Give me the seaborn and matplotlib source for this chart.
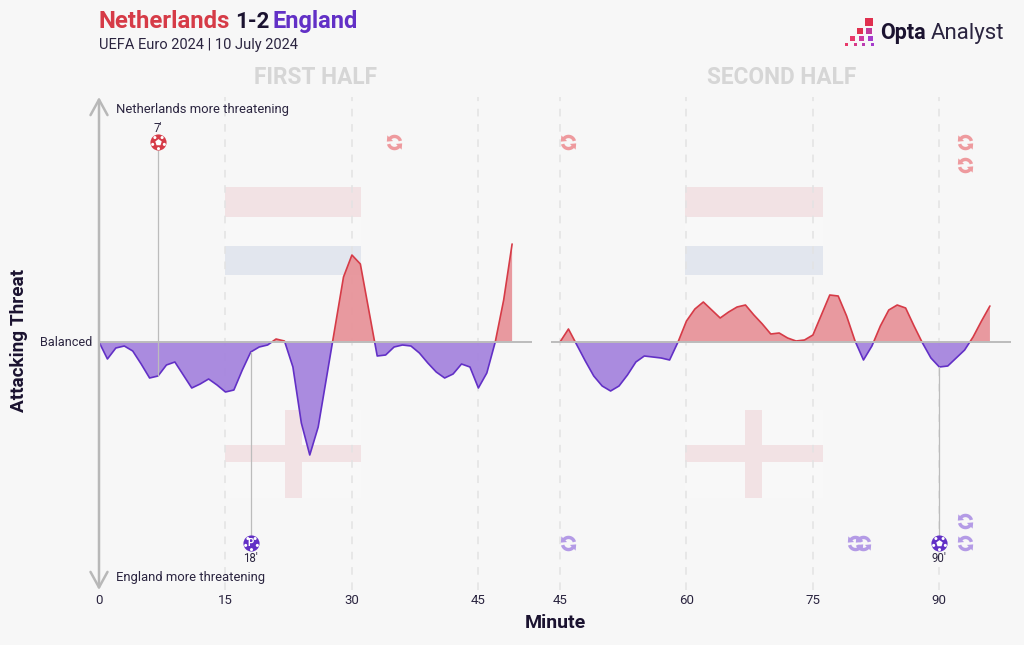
import numpy as np
import pandas as pd
import matplotlib
matplotlib.use("Agg")
import matplotlib.pyplot as plt
import seaborn as sns
from matplotlib.patches import Rectangle
from matplotlib.path import Path

# ---------- data ----------
first_half_minutes = list(range(0, 50))
first_half_threat = [0, -17, -6, -4, -9, -22, -36, -34, -23, -20,
                     -33, -46, -42, -37, -43, -50, -48, -28, -10, -5,
                     -3, 3, 1, -25, -81, -113, -85, -35, 15, 65,
                     87, 78, 32, -14, -13, -5, -3, -4, -11, -21,
                     -30, -36, -32, -22, -25, -46, -31, 0, 42, 98]
second_half_minutes = list(range(45, 97))
second_half_threat = [0, 13, -3, -19, -34, -44, -49, -44, -33, -20,
                      -14, -15, -16, -18, 0, 21, 33, 40, 32, 24,
                      30, 35, 37, 27, 18, 8, 9, 4, 1, 2,
                      7, 27, 47, 46, 26, 1, -18, -4, 16, 32,
                      37, 34, 16, -1, -16, -25, -24, -16, -8, 5,
                      21, 36]
first_ticks = [0, 15, 30, 45]
second_ticks = [45, 60, 75, 90]
nl_goals = [(7, "7'")]
eng_goals_first = [(18, "18'")]
eng_goals_second = [(90, "90'")]
nl_subs_first = [35]
nl_subs_first_level = [200]
nl_subs_second = [46, 93, 93]
nl_subs_second_level = [200, 200, 177]
eng_subs_second = [46, 80, 81, 93, 93]
eng_subs_second_level = [-201, -201, -201, -201, -179]

# ---------- style ----------
BG = "#f7f7f7"
RED = "#d63b47"
PURPLE = "#6230c6"
RED_FILL = "#e8949a"
PURPLE_FILL = "#a685de"
INK = "#2b2540"
GREY = "#bcbcbc"
FONT = ["Roboto", "DejaVu Sans"]

sns.set_theme(style="white")
plt.rcParams["font.family"] = FONT
W, H = 1024, 645
fig = plt.figure(figsize=(W / 100, H / 100), dpi=100, facecolor=BG)

PX_TOP, PX_BOT, PX_ZERO = 95, 590, 342


def make_axes(left, right):
    ax = fig.add_axes([left / W, 1 - PX_BOT / H, (right - left) / W, (PX_BOT - PX_TOP) / H])
    ax.set_facecolor("none")
    ax.set_ylim(PX_ZERO - PX_BOT, PX_ZERO - PX_TOP)
    ax.set_yticks([])
    sns.despine(ax=ax, left=True, bottom=True)
    ax.tick_params(axis="x", length=0, pad=3, labelsize=9.5, labelcolor=INK)
    return ax


ax1 = make_axes(99, 532)
ax1.set_xlim(0, 51.36)
ax2 = make_axes(551, 1011)
ax2.set_xlim(43.93, 98.5)


def flag_nl(ax, x0, x1):
    ax.add_patch(Rectangle((x0, 125), x1 - x0, 30, fc="#f2e2e4", ec="none", zorder=1))
    ax.add_patch(Rectangle((x0, 96), x1 - x0, 29, fc="#f8f8f8", ec="none", zorder=1))
    ax.add_patch(Rectangle((x0, 67), x1 - x0, 29, fc="#e2e6ee", ec="none", zorder=1))


def flag_eng(ax, x0, x1, c0, c1):
    ax.add_patch(Rectangle((x0, -156), x1 - x0, 88, fc="#f8f8f8", ec="none", zorder=1))
    ax.add_patch(Rectangle((x0, -120), x1 - x0, 17, fc="#f2e2e4", ec="none", zorder=1))
    ax.add_patch(Rectangle((c0, -156), c1 - c0, 88, fc="#f2e2e4", ec="none", zorder=1))


def draw_series(ax, minutes, threat):
    m = np.array(minutes, float)
    t = np.array(threat, float)
    ax.fill_between(m, 0, t, where=t >= 0, interpolate=True, color=RED_FILL, lw=0, alpha=0.95, zorder=3)
    ax.fill_between(m, 0, t, where=t <= 0, interpolate=True, color=PURPLE_FILL, lw=0, alpha=0.95, zorder=3)
    df = pd.DataFrame({"minute": minutes, "threat": threat})
    x0, x1 = ax.get_xlim()
    for col, lo, hi in ((RED, 0, 400), (PURPLE, -400, 0)):
        n = len(ax.lines)
        sns.lineplot(data=df, x="minute", y="threat", ax=ax, color=col, lw=1.2,
                     estimator=None, errorbar=None, zorder=4)
        line = ax.lines[n]
        line.set_clip_path(Rectangle((x0, lo), x1 - x0, hi - lo, transform=ax.transData))
    ax.set_xlabel("")
    ax.set_ylabel("")
    ax.axhline(0, color=GREY, lw=1.4, zorder=5)


def regular_polygon(cx, cy, r, n, start):
    ang = np.deg2rad(start + np.arange(n) * 360 / n)
    pts = np.column_stack([cx + r * np.cos(ang), cy + r * np.sin(ang)])
    return Path(np.vstack([pts, pts[0]]), closed=True)


def ball_detail(with_centre=True):
    parts = []
    if with_centre:
        parts.append(regular_polygon(0, 0, 0.42, 5, 90))
    for k in range(5):
        a = np.deg2rad(126 + 72 * k)
        parts.append(regular_polygon(0.76 * np.cos(a), 0.76 * np.sin(a), 0.2, 8, 0))
    return Path.make_compound_path(*parts)


def sub_icon():
    def half(a0, a1):
        ang = np.deg2rad(np.linspace(a0, a1, 24))
        outer = np.column_stack([np.cos(ang), np.sin(ang)])
        inner = np.column_stack([0.56 * np.cos(ang[::-1]), 0.56 * np.sin(ang[::-1])])
        e = ang[-1]
        tip_r = np.array([np.cos(e), np.sin(e)])
        tang = np.array([-np.sin(e), np.cos(e)])
        head = [tip_r * 1.3, tip_r * 0.78 + tang * 0.62, tip_r * 0.26]
        pts = np.vstack([outer, head, inner])
        return Path(np.vstack([pts, pts[0]]), closed=True)
    return Path.make_compound_path(half(15, 135), half(195, 315))


BALL_DETAIL = ball_detail(True)
BALL_DOTS = ball_detail(False)
SUB = sub_icon()
BALL_S = 135


def draw_goal(ax, minute, label, threat_lookup, level, color, penalty=False):
    curve = threat_lookup[minute]
    ax.plot([minute, minute], [curve, level], color=GREY, lw=0.9, zorder=6)
    ax.scatter([minute], [level], s=BALL_S, color=color, zorder=7, lw=0, marker="o")
    scale = 0.96 ** 2
    ax.scatter([minute], [level], s=BALL_S * scale, color="white", lw=0, zorder=8,
               marker=BALL_DOTS if penalty else BALL_DETAIL)
    if penalty:
        ax.text(minute, level - 0.5, "P", ha="center", va="center", fontsize=7,
                fontweight="bold", color="white", zorder=9)
    off = 14 if level > 0 else -15
    ax.text(minute, level + off, label, ha="center", va="center", fontsize=8.3, color=INK, zorder=9)


for ax, minutes, threat, ticks in ((ax1, first_half_minutes, first_half_threat, first_ticks),
                                   (ax2, second_half_minutes, second_half_threat, second_ticks)):
    for t in ticks:
        if not (ax is ax1 and t == 0):
            ax.axvline(t, color="#e3e3e3", lw=1.1, ls=(0, (5, 5)), zorder=2, ymin=0, ymax=0.995)
    draw_series(ax, minutes, threat)
    ax.set_xticks(ticks)
    ax.set_xticklabels([str(t) for t in ticks])

flag_nl(ax1, 15, 31.1)
flag_eng(ax1, 15, 31.1, 22.06, 24.08)
flag_nl(ax2, 59.8, 76.2)
flag_eng(ax2, 59.8, 76.2, 66.95, 68.98)

lookup1 = dict(zip(first_half_minutes, first_half_threat))
lookup2 = dict(zip(second_half_minutes, second_half_threat))
for minute, label in nl_goals:
    draw_goal(ax1, minute, label, lookup1, 200, RED)
for minute, label in eng_goals_first:
    draw_goal(ax1, minute, label, lookup1, -201, PURPLE, penalty=True)
for minute, label in eng_goals_second:
    draw_goal(ax2, minute, label, lookup2, -201, PURPLE)

SUB_S = 125
ax1.scatter(nl_subs_first, nl_subs_first_level, marker=SUB, s=SUB_S, color="#ee9a9e", lw=0, zorder=7)
ax2.scatter(nl_subs_second, nl_subs_second_level, marker=SUB, s=SUB_S, color="#ee9a9e", lw=0, zorder=7)
ax2.scatter(eng_subs_second, eng_subs_second_level, marker=SUB, s=SUB_S, color="#b49be6", lw=0, zorder=7)

# ---------- overlay in pixel coordinates ----------
ov = fig.add_axes([0, 0, 1, 1], zorder=10)
ov.set_xlim(0, W)
ov.set_ylim(H, 0)
ov.axis("off")

ov.annotate("", xy=(99, 97), xytext=(99, 590),
            arrowprops=dict(arrowstyle="<->,head_length=0.62,head_width=0.34", color="#b8b8b8",
                            lw=1.8, shrinkA=0, shrinkB=0, mutation_scale=18))

ov.text(98, 21.5, "Netherlands", color=RED, fontsize=17.2, fontweight="bold", va="center", ha="left")
ov.text(235, 21.5, "1-2", color="#1b1330", fontsize=16, fontweight="bold", va="center", ha="left")
ov.text(273, 21.5, "England", color=PURPLE, fontsize=17, fontweight="bold", va="center", ha="left")
ov.text(99, 45, "UEFA Euro 2024 | 10 July 2024", color=INK, fontsize=10.5, va="center", ha="left")
ov.text(316, 77, "FIRST HALF", color="#d6d6d6", fontsize=16.3, fontweight="bold", va="center", ha="center")
ov.text(782, 77, "SECOND HALF", color="#d6d6d6", fontsize=16.3, fontweight="bold", va="center", ha="center")
ov.text(116, 109, "Netherlands more threatening", color=INK, fontsize=9.4, va="center", ha="left")
ov.text(116, 577, "England more threatening", color=INK, fontsize=9.4, va="center", ha="left")
ov.text(92, 343, "Balanced", color=INK, fontsize=9.1, va="center", ha="right")
ov.text(19, 340, "Attacking Threat", color="#1b1330", fontsize=13.7, fontweight="bold",
        rotation=90, va="center", ha="center")
ov.text(555, 623, "Minute", color="#1b1330", fontsize=14, fontweight="bold", va="center", ha="center")

# logo
squares = [(869, 22, 8, "#e0304f"), (860, 31, 6, "#e0304f"), (869, 31, 6, "#c23a9a"),
           (852, 38, 5, "#e8396a"), (861, 38, 5, "#cf3aa0"), (870, 38, 5, "#a63ccc"),
           (846, 44, 3, "#e8396a"), (855, 44, 3, "#d63a8a"), (863, 44, 3, "#bb3cb0"), (872, 44, 3, "#a63ccc")]
for cx, cy, s, c in squares:
    ov.add_patch(Rectangle((cx - s / 2, cy - s / 2), s, s, fc=c, ec="none"))
ov.text(880, 33, "Opta", color="#1b1330", fontsize=15.5, fontweight="bold", va="center", ha="left")
ov.text(931, 33, "Analyst", color="#2b2540", fontsize=16, va="center", ha="left")

fig.savefig("out.png", dpi=100, facecolor=BG)
